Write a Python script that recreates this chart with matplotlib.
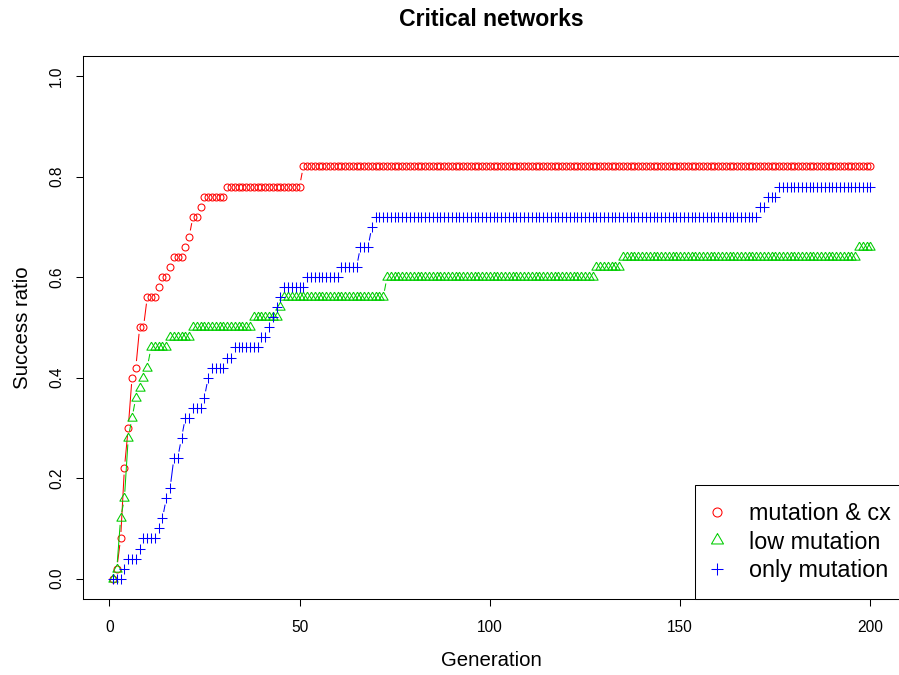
import numpy as np
import matplotlib
matplotlib.use("Agg")
import matplotlib.pyplot as plt
from matplotlib.lines import Line2D
from matplotlib.collections import LineCollection

plt.rcParams["font.family"] = ["Liberation Sans", "DejaVu Sans"]

generations = np.arange(1, 201)

# success ratio held as runs: level and number of generations it lasts
cx_levels = [0.0, 0.02, 0.08, 0.22, 0.30, 0.40, 0.42, 0.50, 0.56, 0.58, 0.60,
             0.62, 0.64, 0.66, 0.68, 0.72, 0.74, 0.76, 0.78, 0.82]
cx_runs = [1, 1, 1, 1, 1, 1, 1, 2, 3, 1, 2, 1, 3, 1, 1, 2, 1, 6, 20, 150]

low_levels = [0.0, 0.02, 0.12, 0.16, 0.28, 0.32, 0.36, 0.38, 0.40, 0.42, 0.46,
              0.48, 0.50, 0.52, 0.54, 0.56, 0.60, 0.62, 0.64, 0.66]
low_runs = [1, 1, 1, 1, 1, 1, 1, 1, 1, 1, 5, 6, 16, 7, 1, 27, 55, 7, 62, 4]

only_levels = [0.0, 0.02, 0.04, 0.06, 0.08, 0.10, 0.12, 0.16, 0.18, 0.24, 0.28,
               0.32, 0.34, 0.36, 0.40, 0.42, 0.44, 0.46, 0.48, 0.50, 0.52, 0.54,
               0.56, 0.58, 0.60, 0.62, 0.66, 0.70, 0.72, 0.74, 0.76, 0.78]
only_runs = [3, 1, 3, 1, 4, 1, 1, 1, 1, 2, 1, 2, 3, 1, 1, 4, 2, 7, 2, 1, 1, 1,
             1, 6, 9, 5, 3, 1, 101, 2, 3, 25]

labels = ["mutation & cx", "low mutation", "only mutation"]
colors = ["#FF0000", "#00CD00", "#0000FF"]

# R style open triangle (equilateral, centred on circumcentre)
triangle = [(0, 1), (-0.866, -0.5), (0.866, -0.5), (0, 1)]
markers = ["o", triangle, "+"]
sizes = [5.0, 7.7, 7.0]

fig = plt.figure(figsize=(8.99, 6.75), dpi=100)
ax = fig.add_axes([82.7 / 899, 1 - 598.8 / 675, 818.1 / 899, 542.9 / 675])
ax.set_xlim(-6.96, 207.96)
ax.set_ylim(-0.04, 1.04)


def gapped_segments(ax, x, y, gap_px=6.5):
    # like R type="b": line pieces stop short of each point
    pts = ax.transData.transform(np.column_stack([x, y]))
    inv = ax.transData.inverted()
    segs = []
    for p0, p1 in zip(pts[:-1], pts[1:]):
        d = p1 - p0
        length = np.hypot(d[0], d[1])
        if length > 2 * gap_px:
            u = d / length
            segs.append(inv.transform(np.array([p0 + u * gap_px, p1 - u * gap_px])))
    return segs


all_levels = [cx_levels, low_levels, only_levels]
all_runs = [cx_runs, low_runs, only_runs]
for lev, runs, col, mk, ms in zip(all_levels, all_runs, colors, markers, sizes):
    ratio = np.repeat(lev, runs)
    ax.add_collection(LineCollection(gapped_segments(ax, generations, ratio),
                                     colors=col, linewidths=0.75))
    ax.plot(generations, ratio, ls="none", marker=mk, ms=ms, mec=col,
            mfc="none", mew=0.75)

ax.set_xticks([0, 50, 100, 150, 200])
ax.set_yticks([0.0, 0.2, 0.4, 0.6, 0.8, 1.0])
ax.set_yticklabels(["0.0", "0.2", "0.4", "0.6", "0.8", "1.0"])
ax.tick_params(direction="out", length=5, width=0.75, labelsize=11.2)
ax.tick_params(axis="x", pad=10)
ax.tick_params(axis="y", labelrotation=90, pad=8.5)
for t in ax.get_yticklabels():
    t.set_va("center")
for s in ax.spines.values():
    s.set_linewidth(0.75)

ax.set_xlabel("Generation", fontsize=14.7, labelpad=12)
ax.set_ylabel("Success ratio", fontsize=14.7, labelpad=12)
fig.text(491 / 899, 1 - 20 / 675, "Critical networks", fontsize=16.6,
         fontweight="bold", ha="center", va="center")

handles = [Line2D([], [], ls="none", marker=mk, ms=ms * 1.3, mec=col,
                  mfc="none", mew=0.75)
           for mk, ms, col in zip(markers, sizes, colors)]
leg = ax.legend(handles, labels, loc="lower right",
                bbox_to_anchor=(1 + 6 / 818, 0), borderaxespad=0,
                fontsize=16.8, fancybox=False, edgecolor="black", framealpha=1,
                borderpad=0.7, handlelength=0.49, handletextpad=1.09,
                labelspacing=0.25)
leg.get_frame().set_linewidth(0.75)

fig.savefig("out.png", dpi=100)
